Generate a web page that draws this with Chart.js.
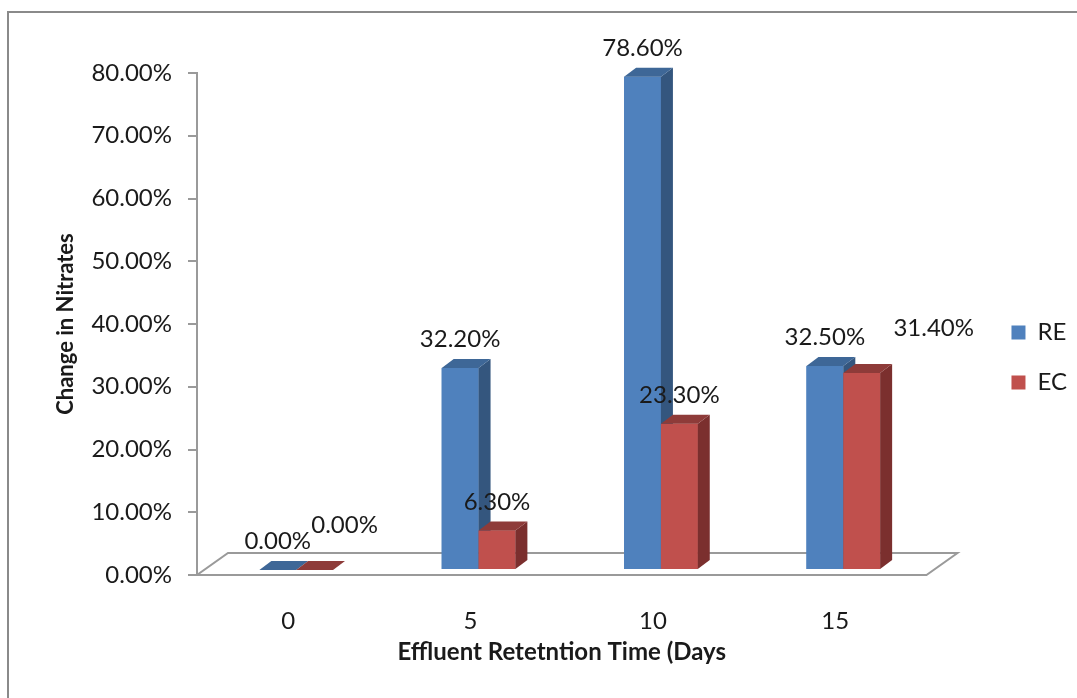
<!DOCTYPE html>
<html>
<head>
<meta charset="utf-8">
<script src="https://cdn.jsdelivr.net/npm/chart.js@4.4.1/dist/chart.umd.min.js"></script>
<style>
  html, body { margin: 0; padding: 0; background: #ffffff; }
  #wrap { width: 1077px; height: 698px; }
</style>
</head>
<body>
<div id="wrap"><canvas id="c" width="1077" height="698"></canvas></div>
<script>
// ---- data ----
const categories = ['0', '5', '10', '15'];
const seriesNames = ['RE', 'EC'];
const reValues = [0, 0.322, 0.786, 0.325];
const ecValues = [0, 0.063, 0.233, 0.314];
const yTickValues = [0, 0.1, 0.2, 0.3, 0.4, 0.5, 0.6, 0.7, 0.8];
const xTitle = 'Effluent Retetntion Time (Days';
const yTitle = 'Change in Nitrates';

// ---- styles ----
const frontColors = ['#4f81bd', '#c0504d'];
const sideColors = ['#34567e', '#7b2f2e'];
const topColors = ['#3e6797', '#8e3b39'];
const textColor = '#1a1a1a';
const lineColor = '#9a9a9a';
const depth = { dx: 12, dy: -9 };
const barShift = { x: 8, y: -5 };
const floorDepth = { dx: 31, dy: -22 };
const labelGap = 28.5;
const labelNudges = { '1-0': [30, -16], '1-3': [72, -16] };

const fmtPct = v => (v * 100).toFixed(2) + '%';

const bars3d = {
  id: 'bars3d',
  beforeDraw(chart) {
    const ctx = chart.ctx;
    ctx.save();
    ctx.fillStyle = '#ffffff';
    ctx.fillRect(0, 0, chart.width, chart.height);
    ctx.strokeStyle = '#8a8a8a';
    ctx.lineWidth = 2;
    ctx.strokeRect(8, 12, chart.width + 20, chart.height + 20);
    ctx.restore();
  },
  beforeDatasetsDraw(chart) {
    const ctx = chart.ctx;
    const a = chart.chartArea;
    ctx.save();
    ctx.strokeStyle = lineColor;
    ctx.lineWidth = 2;
    ctx.beginPath();
    ctx.moveTo(a.left, a.bottom);
    ctx.lineTo(a.right, a.bottom);
    ctx.lineTo(a.right + floorDepth.dx, a.bottom + floorDepth.dy);
    ctx.lineTo(a.left + floorDepth.dx, a.bottom + floorDepth.dy);
    ctx.closePath();
    ctx.stroke();
    ctx.restore();
    ctx.save();
    ctx.translate(barShift.x, barShift.y);
  },
  afterDatasetsDraw(chart) {
    const ctx = chart.ctx;
    const poly = (pts, color) => {
      ctx.fillStyle = color;
      ctx.beginPath();
      ctx.moveTo(pts[0][0], pts[0][1]);
      for (let k = 1; k < pts.length; k++) ctx.lineTo(pts[k][0], pts[k][1]);
      ctx.closePath();
      ctx.fill();
    };
    const {dx, dy} = depth;
    chart.data.datasets.forEach((ds, i) => {
      const meta = chart.getDatasetMeta(i);
      meta.data.forEach(el => {
        const p = el.getProps(['x', 'y', 'base', 'width'], true);
        const l = p.x - p.width / 2, r = p.x + p.width / 2;
        const t = Math.min(p.y, p.base), b = Math.max(p.y, p.base);
        ctx.fillStyle = frontColors[i];
        ctx.fillRect(l, t, r - l, b - t);
        poly([[r, t], [r + dx, t + dy], [r + dx, b + dy], [r, b]], sideColors[i]);
        poly([[l, t], [r, t], [r + dx, t + dy], [l + dx, t + dy]], topColors[i]);
      });
    });
    ctx.fillStyle = textColor;
    ctx.font = '24px Lato';
    ctx.textAlign = 'center';
    ctx.textBaseline = 'middle';
    chart.data.datasets.forEach((ds, i) => {
      const meta = chart.getDatasetMeta(i);
      meta.data.forEach((el, j) => {
        const p = el.getProps(['x', 'y'], true);
        const n = labelNudges[i + '-' + j] || [0, 0];
        ctx.fillText(fmtPct(ds.data[j]), p.x + n[0], p.y - labelGap + n[1]);
      });
    });
    ctx.restore();
  }
};

Chart.defaults.font.family = 'Lato';
Chart.defaults.color = textColor;

new Chart(document.getElementById('c'), {
  type: 'bar',
  data: {
    labels: categories,
    datasets: [
      { label: seriesNames[0], data: reValues, backgroundColor: frontColors[0], borderWidth: 0, clip: false,
        categoryPercentage: 0.404, barPercentage: 1 },
      { label: seriesNames[1], data: ecValues, backgroundColor: frontColors[1], borderWidth: 0, clip: false,
        categoryPercentage: 0.404, barPercentage: 1 }
    ]
  },
  options: {
    responsive: false,
    animation: false,
    events: [],
    layout: { padding: { left: 50, top: 73, right: 0, bottom: 25 } },
    plugins: {
      tooltip: { enabled: false },
      legend: {
        position: 'right',
        fullSize: false,
        title: { display: true, text: '', padding: 0, font: { size: 67, lineHeight: 1 } },
        labels: { boxWidth: 14, boxHeight: 14, padding: 26, color: textColor, font: { size: 24 } }
      }
    },
    scales: {
      x: {
        grid: { display: false, drawTicks: false },
        border: { display: false },
        ticks: { padding: 32, color: textColor, font: { size: 24 } },
        title: { display: true, text: xTitle, color: textColor, padding: { top: 0, bottom: 6 },
                 font: { size: 24, weight: 'bold' } },
        afterFit(s) { s.height = 98; }
      },
      y: {
        min: 0, max: 0.8,
        afterBuildTicks(s) { s.ticks = yTickValues.map(v => ({ value: v })); },
        grid: { display: true, drawOnChartArea: false, drawTicks: true, tickLength: 9, color: lineColor, lineWidth: 2 },
        border: { display: true, color: lineColor, width: 2 },
        ticks: { padding: 16, color: textColor, font: { size: 24 }, callback: v => fmtPct(v) },
        title: { display: true, text: yTitle, color: textColor, padding: { top: 3, bottom: 0 },
                 font: { size: 22, weight: 'bold' } },
        afterFit(s) { s.width = 147; }
      },
      pad: {
        type: 'linear', position: 'right', display: true,
        grid: { display: false, drawTicks: false },
        border: { display: false },
        ticks: { display: false },
        afterFit(s) { s.width = 59; }
      }
    }
  },
  plugins: [bars3d]
});
</script>
</body>
</html>
